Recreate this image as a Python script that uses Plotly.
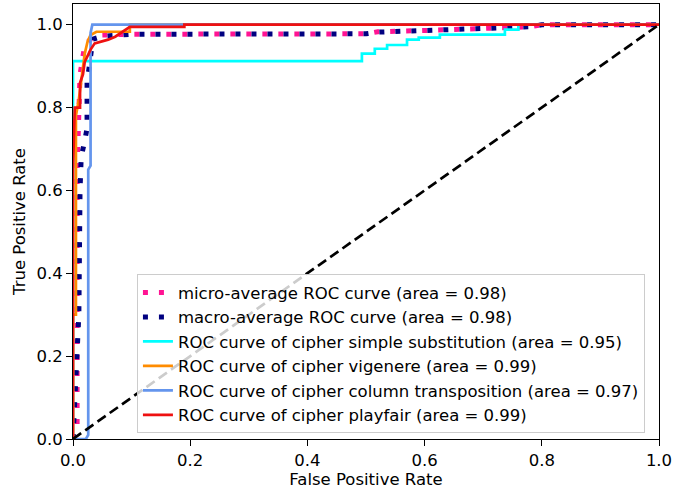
import plotly.graph_objects as go

# ROC points (false positive rate, true positive rate) per curve
micro_fpr = [0.0, 0.007, 0.007, 0.009, 0.012, 0.02, 0.03, 0.05, 0.1, 0.5, 0.52, 0.6, 0.7, 0.78, 0.8, 1.0]
micro_tpr = [0.0, 0.02, 0.65, 0.8, 0.88, 0.95, 0.965, 0.975, 0.977, 0.978, 0.983, 0.986, 0.99, 0.995, 1.0, 1.0]

macro_fpr = [0.0, 0.01, 0.012, 0.014, 0.02, 0.024, 0.024, 0.03, 0.034, 0.05, 0.1, 0.5, 0.52, 0.6, 0.7, 0.78, 0.8, 1.0]
macro_tpr = [0.0, 0.3, 0.6, 0.68, 0.72, 0.75, 0.86, 0.93, 0.965, 0.972, 0.977, 0.978, 0.982, 0.986, 0.99, 0.995, 1.0, 1.0]

subst_fpr = [0.0, 0.0, 0.493, 0.493, 0.515, 0.515, 0.536, 0.536, 0.57, 0.57, 0.59, 0.59, 0.626, 0.626, 0.737, 0.737, 0.76, 0.76, 1.0]
subst_tpr = [0.0, 0.912, 0.912, 0.93, 0.93, 0.942, 0.942, 0.951, 0.951, 0.964, 0.964, 0.969, 0.969, 0.976, 0.976, 0.988, 0.988, 1.0, 1.0]

vig_fpr = [0.0, 0.0, 0.005, 0.005, 0.01, 0.015, 0.02, 0.025, 0.03, 0.04, 0.097, 0.097, 1.0]
vig_tpr = [0.0, 0.3, 0.3, 0.78, 0.82, 0.88, 0.93, 0.96, 0.975, 0.983, 0.983, 1.0, 1.0]

col_fpr = [0.0, 0.022, 0.026, 0.026, 0.03, 0.03, 0.033, 1.0]
col_tpr = [0.0, 0.0, 0.01, 0.65, 0.66, 0.98, 1.0, 1.0]

play_fpr = [0.0, 0.0, 0.003, 0.012, 0.012, 0.017, 0.02, 0.03, 0.037, 0.06, 0.072, 0.085, 0.097, 0.19, 0.19, 1.0]
play_tpr = [0.0, 0.65, 0.8, 0.8, 0.86, 0.88, 0.91, 0.94, 0.955, 0.964, 0.971, 0.983, 0.995, 0.995, 1.0, 1.0]

chance_fpr = [0.0, 1.0]
chance_tpr = [0.0, 1.0]

x_ticks = [0.0, 0.2, 0.4, 0.6, 0.8, 1.0]
y_ticks = [0.0, 0.2, 0.4, 0.6, 0.8, 1.0]

FONT = "DejaVu Sans"
FS = 16.5

fig = go.Figure()

dot = "5px,11px"
fig.add_trace(go.Scatter(x=micro_fpr, y=micro_tpr, mode="lines",
                         name="micro-average ROC curve (area = 0.98)",
                         line=dict(color="deeppink", width=5, dash=dot),
                         legendgroup="a"))
fig.add_trace(go.Scatter(x=macro_fpr, y=macro_tpr, mode="lines",
                         name="macro-average ROC curve (area = 0.98)",
                         line=dict(color="navy", width=5, dash=dot),
                         legendgroup="b"))

solid = [
    (subst_fpr, subst_tpr, "aqua", "ROC curve of cipher simple substitution (area = 0.95)", "c"),
    (vig_fpr, vig_tpr, "darkorange", "ROC curve of cipher vigenere (area = 0.99)", "d"),
    (col_fpr, col_tpr, "cornflowerblue", "ROC curve of cipher column transposition (area = 0.97)", "e"),
    (play_fpr, play_tpr, "#ee1111", "ROC curve of cipher playfair (area = 0.99)", "f"),
]
for fx, ty, color, label, grp in solid:
    fig.add_trace(go.Scatter(x=fx, y=ty, mode="lines", name=label,
                             line=dict(color=color, width=2.7),
                             legendgroup=grp))

fig.add_trace(go.Scatter(x=chance_fpr, y=chance_tpr, mode="lines",
                         line=dict(color="black", width=2.7, dash="10px,5px"),
                         showlegend=False, hoverinfo="skip"))

axis_common = dict(
    showgrid=False, zeroline=False, showline=True, linecolor="black",
    linewidth=1, mirror=True, ticks="outside", ticklen=6, tickwidth=1,
    tickcolor="black", tickformat=".1f",
    tickfont=dict(family=FONT, size=FS, color="black"),
)

fig.update_layout(
    width=675, height=492,
    margin=dict(l=73, r=16, t=4, b=53),
    plot_bgcolor="white", paper_bgcolor="white",
    font=dict(family=FONT, size=FS, color="black"),
    xaxis=dict(range=[0, 1.0], tickvals=x_ticks,
               title=dict(text="False Positive Rate", font=dict(family=FONT, size=FS), standoff=4),
               **axis_common),
    yaxis=dict(range=[0, 1.05], tickvals=y_ticks,
               title=dict(text="True Positive Rate", font=dict(family=FONT, size=FS), standoff=6),
               **axis_common),
    legend=dict(
        x=0.976, y=0.013, xanchor="right", yanchor="bottom",
        bgcolor="rgba(255,255,255,0.8)", bordercolor="#cccccc", borderwidth=1,
        font=dict(family=FONT, size=FS, color="black"),
        tracegroupgap=0,
    ),
    showlegend=True,
)

fig.write_html("out.html")
